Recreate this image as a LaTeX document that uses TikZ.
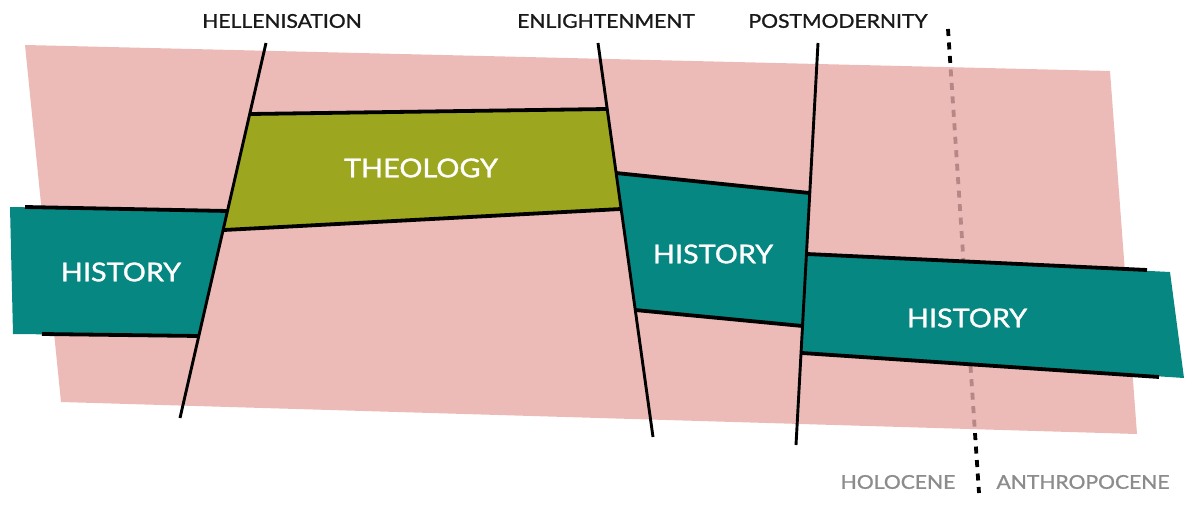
\documentclass[tikz,border=0pt]{standalone}
\usepackage{fontspec}
\setmainfont{Lato}
\newfontfamily\widefont{Lato}[FakeStretch=1.12]
\newfontfamily\widebold{Lato}[FakeStretch=1.11, FakeBold=1.2]
\usetikzlibrary{positioning}

\definecolor{bgpink}{HTML}{EDBBB7}
\definecolor{histteal}{HTML}{068782}
\definecolor{theoolive}{HTML}{9CA61E}
\definecolor{eradash}{HTML}{B58787}
\definecolor{eragray}{HTML}{8C8C8C}

\begin{document}
\begin{tikzpicture}[
    x=1pt, y=-1pt,
    edge/.style={line width=3.8pt},
    divider/.style={line width=2.9pt},
    eraline/.style={line width=3.8pt, dash pattern=on 7pt off 6.5pt},
    period/.style={font=\widebold\fontsize{19}{19}\selectfont, text=black!90},
    field/.style={font=\widebold\fontsize{26}{26}\selectfont, text=white},
    epoch/.style={font=\widebold\fontsize{19}{19}\selectfont, text=eragray}
]
    \useasboundingbox (0,0) rectangle (1200,511);

    % dividing lines
    \coordinate (helTop) at (266,43);
    \coordinate (helBot) at (180,418);
    \coordinate (enlTop) at (598,43);
    \coordinate (enlBot) at (653,437);
    \coordinate (postTop) at (818,43);
    \coordinate (postBot) at (796,445);
    \coordinate (eraTop) at (948,29);
    \coordinate (eraBot) at (979,493);

    % holocene / anthropocene boundary, under the band
    \draw [eraline] (eraTop) -- (eraBot);

    % the band of time
    \fill [bgpink] (25,45) -- (1110,71) -- (1137,434) -- (61,402) -- cycle;
    \begin{scope}
        \clip (25,45) -- (1110,71) -- (1137,434) -- (61,402) -- cycle;
        \draw [eraline, draw=eradash] (eraTop) -- (eraBot);
    \end{scope}

    % boxes
    \fill [histteal] (10,207) -- (227.5,211) -- (199,336) -- (13,334) -- cycle;
    \fill [theoolive] (250,114) -- (607,109) -- (621,209) -- (224,230) -- cycle;
    \fill [histteal] (616,173) -- (809.5,193) -- (802.5,326) -- (635,310) -- cycle;
    \fill [histteal] (807,254) -- (1170,272) -- (1184,378) -- (802,353) -- cycle;

    % box edges
    \coordinate (h1a) at (25,207);   \coordinate (h1b) at (228,211);
    \coordinate (h1c) at (42,334);   \coordinate (h1d) at (199,336);
    \coordinate (t1a) at (250,114);  \coordinate (t1b) at (607,109);
    \coordinate (t1c) at (224,230);  \coordinate (t1d) at (621,209);
    \coordinate (h2a) at (616,173);  \coordinate (h2b) at (809.5,193);
    \coordinate (h2c) at (635,310);  \coordinate (h2d) at (802.5,326);
    \coordinate (h3a) at (807,254);  \coordinate (h3b) at (1147,270);
    \coordinate (h3c) at (802,353);  \coordinate (h3d) at (1159,377);
    \draw [edge] (h1a) -- (h1b);
    \draw [edge] (h1c) -- (h1d);
    \draw [edge] (t1a) -- (t1b);
    \draw [edge] (t1c) -- (t1d);
    \draw [edge] (h2a) -- (h2b);
    \draw [edge] (h2c) -- (h2d);
    \draw [edge] (h3a) -- (h3b);
    \draw [edge] (h3c) -- (h3d);

    \draw [divider] (helTop) -- (helBot);
    \draw [divider] (enlTop) -- (enlBot);
    \draw [divider] (postTop) -- (postBot);

    % labels
    \node [field] (hist1) at (121,272) {HISTORY};
    \node [field] (theo) at (421,168) {THEOLOGY};
    \node [field] (hist2) at (713,254) {HISTORY};
    \node [field] (hist3) at (967,318) {HISTORY};

    \node [period] (hel) at (282,21) {HELLENISATION};
    \node [period] (enl) at (606,21) {ENLIGHTENMENT};
    \node [period] (post) at (838,21) {POSTMODERNITY};

    \node [epoch] (holo) at (898,482) {HOLOCENE};
    \node [epoch] (anthro) at (1083,482) {ANTHROPOCENE};
\end{tikzpicture}
\end{document}
